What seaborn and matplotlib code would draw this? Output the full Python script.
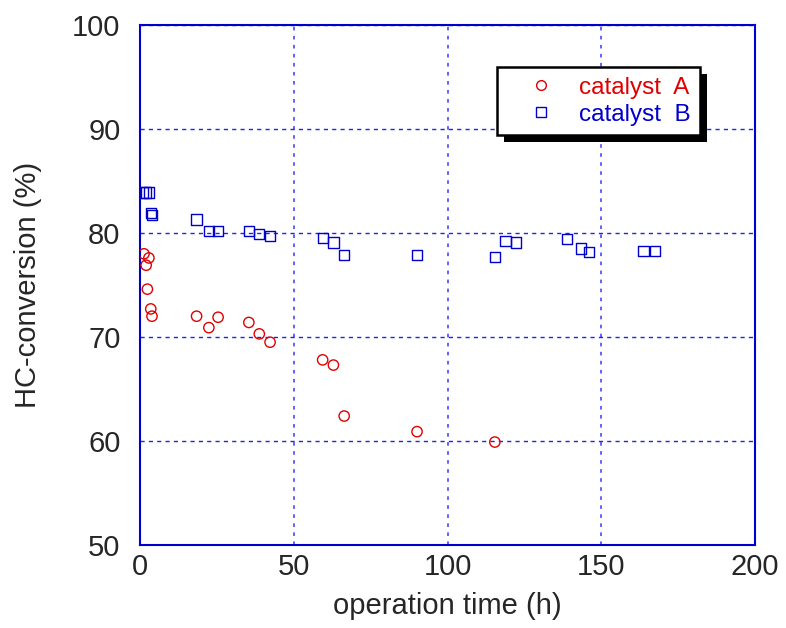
import pandas as pd
import matplotlib
matplotlib.use("Agg")
import matplotlib.pyplot as plt
import seaborn as sns
from matplotlib.lines import Line2D
from matplotlib.patches import Rectangle
from matplotlib.transforms import IdentityTransform

# catalyst A (circles)
time_a = [1.3, 2.0, 2.4, 2.9, 3.5, 3.9, 18.4, 22.4, 25.4, 35.4, 38.8, 42.3,
          59.4, 62.9, 66.4, 90.1, 115.4]
conv_a = [78.0, 76.9, 74.6, 77.6, 72.7, 72.0, 72.0, 70.9, 71.9, 71.4, 70.3, 69.5,
          67.8, 67.3, 62.4, 60.9, 59.9]

# catalyst B (squares)
time_b = [1.0, 2.0, 3.0, 3.5, 4.0, 18.4, 22.4, 25.4, 35.4, 38.8, 42.3,
          59.4, 62.9, 66.4, 90.1, 115.4, 118.9, 122.3, 138.9, 143.4, 146.0,
          163.7, 167.5]
conv_b = [83.9, 83.9, 83.9, 81.9, 81.7, 81.3, 80.2, 80.2, 80.2, 79.9, 79.7,
          79.5, 79.1, 77.9, 77.9, 77.7, 79.2, 79.1, 79.4, 78.5, 78.2,
          78.3, 78.3]

df_a = pd.DataFrame({'t': time_a, 'c': conv_a})
df_b = pd.DataFrame({'t': time_b, 'c': conv_b})

red = '#e00000'
blue = '#0000cc'

sns.set_style("ticks")
plt.rcParams['font.family'] = ['Liberation Sans', 'DejaVu Sans']

fig = plt.figure(figsize=(7.86, 6.28), dpi=100)
ax = fig.add_axes([140 / 786, 1 - 545 / 628, 615 / 786, 520 / 628])

sns.scatterplot(x='t', y='c', data=df_a, ax=ax, marker='o', s=55,
                facecolors='none', edgecolors=red, linewidth=1.0, zorder=3)
sns.scatterplot(x='t', y='c', data=df_b, ax=ax, marker='s', s=55,
                facecolors='none', edgecolors=blue, linewidth=1.0, zorder=3)

ax.set_xlim(0, 200)
ax.set_ylim(50, 100)
ax.set_xticks([0, 50, 100, 150, 200])
ax.set_yticks([50, 60, 70, 80, 90, 100])
ax.yaxis.grid(True, color='#2222ee', linestyle=(0, (3, 3)), linewidth=1.0)
ax.xaxis.grid(True, color='#5555ff', linestyle=(0, (2, 3)), linewidth=1.3)
for side in ['top', 'right', 'left', 'bottom']:
    ax.spines[side].set_color(blue)
    ax.spines[side].set_linewidth(1.5)
ax.tick_params(length=0, labelsize=21)
ax.tick_params(axis='x', pad=6)
ax.tick_params(axis='y', pad=14)

ax.set_xlabel('operation time (h)', fontsize=21, labelpad=8)
ax.set_ylabel('HC-conversion (%)', fontsize=21, labelpad=22)

handles = [
    Line2D([], [], marker='o', ls='', mfc='none', mec=red, ms=7),
    Line2D([], [], marker='s', ls='', mfc='none', mec=blue, ms=7),
]
leg = ax.legend(handles, ['catalyst  A', 'catalyst  B'], loc='upper right',
                bbox_to_anchor=(0.9106, 0.919), borderaxespad=0,
                fontsize=17.5, frameon=True, fancybox=False,
                labelcolor=[red, blue], handletextpad=0.15,
                borderpad=0.4, labelspacing=0.2, handlelength=2.8)
leg.get_frame().set_edgecolor('black')
leg.get_frame().set_linewidth(1.8)
leg.get_frame().set_alpha(1)
leg.set_zorder(6)

# drop shadow behind the legend box
fig.canvas.draw()
bb = leg.get_frame().get_window_extent()
ax.add_patch(Rectangle((bb.x0 + 7, bb.y0 - 7), bb.width, bb.height,
                       transform=IdentityTransform(), facecolor='black',
                       edgecolor='none', clip_on=False, zorder=5))

fig.savefig('out.png', dpi=100)
